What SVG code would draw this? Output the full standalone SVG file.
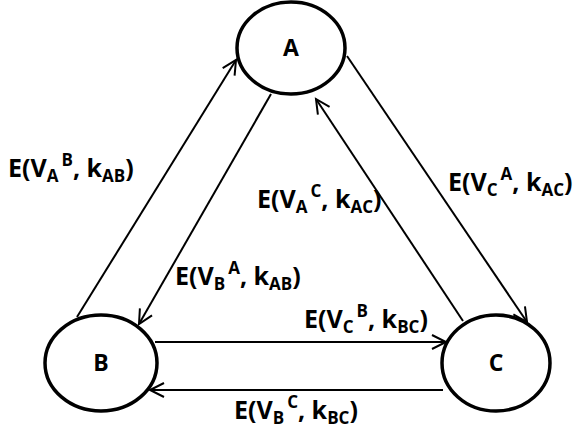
<svg xmlns="http://www.w3.org/2000/svg" width="580" height="433" viewBox="0 0 580 433">
<defs>
<style>
.node{fill:#fff;stroke:#000;stroke-width:3.5}
.nl{font-family:"Open Sans","Liberation Sans",sans-serif;font-weight:bold;font-size:23px;fill:#000;text-anchor:middle}
.edge{stroke:#000;stroke-width:2;fill:none;marker-end:url(#arr)}
.lbl{font-family:"Open Sans","Liberation Sans",sans-serif;font-weight:bold;font-size:25px;fill:#000}
.s{font-size:17px}
</style>
<marker id="arr" markerUnits="userSpaceOnUse" markerWidth="18" markerHeight="18" refX="15" refY="8" orient="auto" viewBox="0 0 18 16">
<path d="M1,1 L15,8 L1,15" fill="none" stroke="#000" stroke-width="2"/>
</marker>
</defs>
<rect width="580" height="433" fill="#fff"/>
<g id="connectors">
<line class="edge" x1="77" y1="317" x2="236" y2="60"/>
<line class="edge" x1="271" y1="94" x2="139" y2="324"/>
<line class="edge" x1="347" y1="56" x2="527" y2="322"/>
<line class="edge" x1="463" y1="321" x2="316" y2="99"/>
<line class="edge" x1="155" y1="342" x2="446" y2="342"/>
<line class="edge" x1="443" y1="390" x2="150" y2="390"/>
</g>
<g id="nodeA"><ellipse class="node" cx="291" cy="48" rx="54" ry="46"/><text class="nl" x="291" y="56">A</text></g>
<g id="nodeB"><ellipse class="node" cx="101" cy="363" rx="56" ry="48"/><text class="nl" x="101" y="371">B</text></g>
<g id="nodeC"><ellipse class="node" cx="496" cy="363" rx="54" ry="48"/><text class="nl" x="496" y="371">C</text></g>
<g id="labels">
<text class="lbl" x="8" y="177">E(V<tspan class="s" dy="5">A</tspan><tspan class="s" dx="3" dy="-16">B</tspan><tspan dy="11">, k</tspan><tspan class="s" dy="5">AB</tspan><tspan dy="-5">)</tspan></text>
<text class="lbl" x="257" y="208">E(V<tspan class="s" dy="5">A</tspan><tspan class="s" dx="3" dy="-16">C</tspan><tspan dy="11">, k</tspan><tspan class="s" dy="5">AC</tspan><tspan dy="-5">)</tspan></text>
<text class="lbl" x="448" y="191">E(V<tspan class="s" dy="5">C</tspan><tspan class="s" dx="3" dy="-16">A</tspan><tspan dy="11">, k</tspan><tspan class="s" dy="5">AC</tspan><tspan dy="-5">)</tspan></text>
<text class="lbl" x="175" y="285">E(V<tspan class="s" dy="5">B</tspan><tspan class="s" dx="3" dy="-16">A</tspan><tspan dy="11">, k</tspan><tspan class="s" dy="5">AB</tspan><tspan dy="-5">)</tspan></text>
<text class="lbl" x="304" y="328">E(V<tspan class="s" dy="5">C</tspan><tspan class="s" dx="3" dy="-16">B</tspan><tspan dy="11">, k</tspan><tspan class="s" dy="5">BC</tspan><tspan dy="-5">)</tspan></text>
<text class="lbl" x="234" y="419">E(V<tspan class="s" dy="5">B</tspan><tspan class="s" dx="3" dy="-16">C</tspan><tspan dy="11">, k</tspan><tspan class="s" dy="5">BC</tspan><tspan dy="-5">)</tspan></text>
</g>
</svg>
